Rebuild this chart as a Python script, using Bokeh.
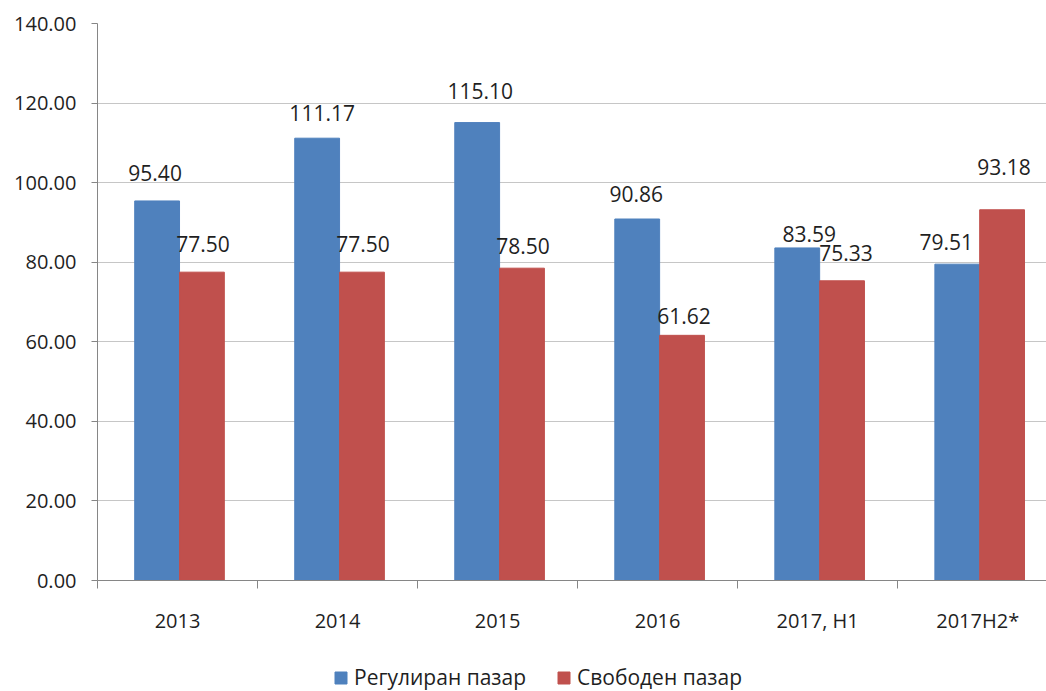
import numpy as np
from bokeh.plotting import figure
from bokeh.layouts import column
from bokeh.models import (ColumnDataSource, Range1d, FixedTicker, LinearAxis,
                          Legend, LegendItem, NumeralTickFormatter)
from bokeh.core.properties import value
from bokeh.embed import file_html
from bokeh.resources import INLINE

# ---- data ----
categories = ["2013", "2014", "2015", "2016", "2017, H1", "2017H2*"]
regulated = [95.40, 111.17, 115.10, 90.86, 83.59, 79.51]
free_market = [77.50, 77.50, 78.50, 61.62, 75.33, 93.18]
series_names = ["Регулиран пазар", "Свободен пазар"]
y_ticks = [0, 20, 40, 60, 80, 100, 120, 140]

# label placement (screen px), style only
reg_label_dy = [28, 25, 32, 25, 14, 22]
reg_label_dx = [-2, 5, 3, -1, 12, -11]
free_label_dy = [28, 28, 22, 19, 28, 43]
free_label_dx = [1, 1, 1, 2, 4, 2]

BLUE = "#4F81BD"
RED = "#C0504D"
TXT = "#1f1f1f"
FONT = "Open Sans"

n = len(categories)
centers = np.arange(n) + 0.5
bw = 0.28

src_reg = ColumnDataSource(dict(
    x=centers - bw / 2 + 0.0125, top=regulated,
    label=["%.2f" % v for v in regulated],
    dx=reg_label_dx, dy=[-d for d in reg_label_dy]))
src_free = ColumnDataSource(dict(
    x=centers + bw / 2 + 0.0125, top=free_market,
    label=["%.2f" % v for v in free_market],
    dx=free_label_dx, dy=[-d for d in free_label_dy]))

p = figure(width=1046, height=661, output_backend="svg", toolbar_location=None,
           x_range=Range1d(0, 5.93), y_range=Range1d(0, 140),
           min_border_left=97, min_border_right=0, min_border_top=23,
           min_border_bottom=81)
p.outline_line_color = None
p.background_fill_color = "white"
p.border_fill_color = "white"

r1 = p.vbar(x="x", top="top", width=bw, source=src_reg,
            fill_color=BLUE, line_color=BLUE)
r2 = p.vbar(x="x", top="top", width=bw, source=src_free,
            fill_color=RED, line_color=RED)

for src in (src_reg, src_free):
    p.text(x="x", y="top", text="label", x_offset="dx", y_offset="dy",
           source=src, text_align="center", text_baseline="middle",
           text_font=value(FONT), text_font_size="21px", text_color=TXT)

# y axis
ya = p.yaxis[0]
ya.ticker = FixedTicker(ticks=y_ticks)
ya.formatter = NumeralTickFormatter(format="0.00")
ya.axis_line_color = "#868686"
ya.major_tick_line_color = "#868686"
ya.major_tick_out = 6
ya.major_tick_in = 0
ya.minor_tick_line_color = None
ya.major_label_text_font = FONT
ya.major_label_text_font_size = "20px"
ya.major_label_text_color = TXT
ya.major_label_standoff = 15

p.ygrid.ticker = FixedTicker(ticks=y_ticks)
p.ygrid.grid_line_color = "#8c8c8c"
p.ygrid.grid_line_dash = "1 1"
p.xgrid.grid_line_color = None

# x axis: tick marks at category boundaries
xa = p.xaxis[0]
xa.ticker = FixedTicker(ticks=list(range(n + 1)))
xa.major_label_overrides = {i: "" for i in range(n + 1)}
xa.major_label_text_font_size = "1px"
xa.major_label_standoff = 0
xa.axis_line_color = "#868686"
xa.major_tick_line_color = "#868686"
xa.major_tick_out = 8
xa.major_tick_in = 0
xa.minor_tick_line_color = None

# x axis labels at category centres
xl = LinearAxis(ticker=FixedTicker(ticks=list(centers)),
                major_label_overrides={float(c): cat for c, cat in zip(centers, categories)})
xl.axis_line_color = None
xl.major_tick_line_color = None
xl.minor_tick_line_color = None
xl.major_label_text_font = FONT
xl.major_label_text_font_size = "20px"
xl.major_label_text_color = TXT
xl.major_label_standoff = 12
p.add_layout(xl, "below")

# legend strip below the chart
lf = figure(width=1046, height=30, output_backend="svg", toolbar_location=None,
            x_range=Range1d(0, 1), y_range=Range1d(0, 1),
            min_border=0)
lf.axis.visible = False
lf.grid.visible = False
lf.outline_line_color = None
d1 = lf.rect(x=[-5], y=[-5], width=0.1, height=0.1, fill_color=BLUE, line_color=BLUE)
d2 = lf.rect(x=[-5], y=[-5], width=0.1, height=0.1, fill_color=RED, line_color=RED)
legend = Legend(items=[LegendItem(label=series_names[0], renderers=[d1]),
                       LegendItem(label=series_names[1], renderers=[d2])],
                orientation="horizontal", location=(236, 0))
legend.border_line_color = None
legend.background_fill_alpha = 0
legend.label_text_font = FONT
legend.label_text_font_size = "21px"
legend.label_text_color = TXT
legend.glyph_width = 15
legend.glyph_height = 15
legend.spacing = 30
legend.label_standoff = 6
legend.margin = 0
legend.padding = 0
lf.add_layout(legend, "center")

open("out.html", "w").write(file_html(column(p, lf, spacing=0), INLINE))
